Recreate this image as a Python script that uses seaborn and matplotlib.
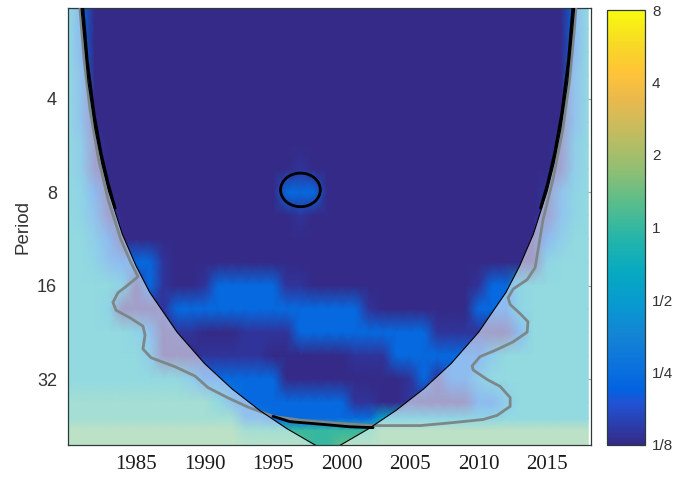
import matplotlib
matplotlib.use("Agg")
import matplotlib as mpl
import matplotlib.pyplot as plt
import numpy as np
import seaborn as sns
from matplotlib.colors import LinearSegmentedColormap, Normalize
from matplotlib.patches import Ellipse

# --- wavelet power grid -----------------------------------------------------
years = list(range(1980, 2019))
log2_periods = [1.0, 1.25, 1.5, 1.75, 2.0, 2.25, 2.5, 2.75, 3.0, 3.25, 3.5,
                3.75, 4.0, 4.25, 4.5, 4.75, 5.0, 5.25, 5.42, 5.55, 5.75]

# one character per year, mapped to log2(power)
power_levels = {"0": -3.3, "1": -2.85, "2": -2.1, "3": -1.7, "4": -1.2,
                "5": -0.8, "6": -0.5, "7": 0.0, "8": 0.5, "9": 1.0}
power_rows = [
    "62" + "0" * 35 + "26",
    "62" + "0" * 35 + "26",
    "62" + "0" * 35 + "26",
    "63" + "0" * 35 + "36",
    "63" + "0" * 35 + "36",
    "63" + "0" * 35 + "36",
    "641" + "0" * 33 + "146",
    "641" + "0" * 14 + "1" + "0" * 18 + "146",
    "652" + "0" * 13 + "222" + "0" * 16 + "1356",
    "6531" + "0" * 13 + "1" + "0" * 17 + "1356",
    "6642" + "0" * 30 + "02466",
    "66532" + "221" + "0" * 27 + "5666",
    "66665" + "0" + "2" + "1" + "00" + "1" + "22222" + "11" + "0" * 12 + "122" + "5" + "66666",
    "666" + "5" + "000" + "1" + "2" * 14 + "1" + "0" * 7 + "222" + "5" + "66666",
    "66666" + "5" + "3" + "0" + "11" + "000" + "1111" + "2" * 10 + "111" + "1" + "00" + "2" + "66666",
    "666666" + "4" + "000" + "11111" + "000000" + "111" + "22222" + "22" + "4" + "6666666",
    "666666666" + "4" + "2" + "22222" + "0" * 9 + "12" + "1" + "22" + "4" + "66666666",
    "7" * 11 + "6" + "3" + "2" * 8 + "11" + "00" + "1" + "0000" + "22" + "4" + "666666",
    "7" * 13 + "33" + "2" * 8 + "5" * 9 + "6" * 7,
    "8" * 13 + "7" * 10 + "8" * 16,
    "8" * 18 + "77" + "8" * 19,
]

# cone of influence
coi_years = [1980.9, 1981.0, 1981.5, 1982.0, 1982.5, 1983.0, 1984.0, 1985.0,
             1986.0, 1988.0, 1990.0, 1992.0, 1994.0, 1996.0, 1998.0, 1999.0,
             2000.0, 2002.0, 2004.0, 2006.0, 2008.0, 2010.0, 2012.0, 2013.0,
             2014.0, 2015.0, 2015.5, 2016.0, 2016.5, 2017.0, 2017.1]
coi_periods = [1.76, 2.06, 3.53, 5.0, 6.47, 7.94, 10.9, 13.8, 16.8, 22.6, 28.5,
               34.4, 40.3, 46.2, 52.0, 54.9, 52.0, 46.2, 40.3, 34.4, 28.5, 22.6,
               16.8, 13.8, 10.9, 7.94, 6.47, 5.0, 3.53, 2.06, 1.76]

# grey contour
grey_years = [1980.85, 1981.22, 1981.65, 1982.27, 1982.97, 1983.9, 1984.6, 1985.15,
              1984.2, 1983.69, 1983.32, 1983.54, 1984.56, 1985.51, 1985.66,
              1985.51, 1986.09, 1987.85, 1989.31, 1990.26, 1991.72, 1993.18,
              1995.0, 1996.97, 1999.9, 2002.3, 2005.73, 2008.14, 2010.33,
              2011.35, 2012.3, 2012.3, 2011.57, 2010.62, 2009.6, 2009.53,
              2010.1, 2011.35, 2012.5, 2013.54, 2013.6, 2013.03, 2012.3,
              2012.15, 2012.52, 2013.54, 2014.12, 2014.34, 2014.7, 2015.42,
              2016.14, 2016.64, 2016.98, 2017.15]
grey_periods = [1.9, 3.0, 4.34, 6.28, 8.46, 11.37, 13.39, 14.97, 16.2, 16.85,
                18.1, 19.2, 20.3, 21.6, 23.1, 25.6, 27.3, 29.2, 31.3, 34.1, 36.8,
                39.4, 42.2, 43.4, 44.5, 45.2, 45.2, 44.2, 43.2, 41.9, 39.2, 36.7,
                33.8, 32.1, 29.9, 29.0, 27.1, 25.7, 24.3, 22.6, 20.9, 19.7, 18.4,
                17.5, 16.4, 15.3, 14.0, 12.25, 9.81, 7.29, 5.03, 3.47, 2.40, 1.9]

# thick black (significance) contours
sig_left_years = [1981.07, 1981.44, 1981.95, 1982.46, 1982.97, 1983.48]
sig_left_periods = [1.9, 3.0, 4.5, 6.0, 7.5, 9.0]
sig_right_years = [2016.93, 2016.56, 2016.05, 2015.54, 2015.03, 2014.52]
sig_right_periods = [1.9, 3.0, 4.5, 6.0, 7.5, 9.0]
sig_bottom_years = [1995.0, 1996.24, 1998.65, 2000.6, 2002.3]
sig_bottom_periods = [42.2, 43.9, 44.8, 45.6, 45.9]
sig_circle_year = 1997.0
sig_circle_period = 7.86
sig_circle_width = 2.9      # years
sig_circle_height = 0.36    # octaves

x_ticks = [1985, 1990, 1995, 2000, 2005, 2010, 2015]
period_ticks = [4, 8, 16, 32]
cbar_ticks = [-3, -2, -1, 0, 1, 2, 3]
cbar_labels = ["1/8", "1/4", "1/2", "1", "2", "4", "8"]

# approximate MATLAB parula
parula_anchors = [
    (0.000, (0.2081, 0.1663, 0.5292)), (0.095, (0.1253, 0.3242, 0.8303)),
    (0.127, (0.0117, 0.3875, 0.8820)), (0.190, (0.0498, 0.4586, 0.8641)),
    (0.254, (0.0793, 0.5200, 0.8312)), (0.317, (0.0343, 0.5966, 0.8199)),
    (0.397, (0.0267, 0.6642, 0.7607)), (0.476, (0.1453, 0.7098, 0.6646)),
    (0.556, (0.3482, 0.7424, 0.5473)), (0.635, (0.5709, 0.7485, 0.4494)),
    (0.714, (0.7525, 0.7384, 0.3768)), (0.794, (0.9139, 0.7258, 0.3063)),
    (0.857, (0.9990, 0.7653, 0.2164)), (0.921, (0.9698, 0.8481, 0.1475)),
    (1.000, (0.9763, 0.9831, 0.0538)),
]
parula = LinearSegmentedColormap.from_list("parula", parula_anchors)

FRAME = "#2b3a3a"

sns.set_style("ticks")
plt.rcParams["font.family"] = ["Liberation Sans", "DejaVu Sans"]

fig = plt.figure(figsize=(6.86, 4.79), dpi=100)
ax = fig.add_axes([68 / 686, 1 - 445 / 479, 523 / 686, 437 / 479])

for row in power_rows:
    assert len(row) == len(years), row
power = np.array([[power_levels[c] for c in row] for row in power_rows])
ax.pcolormesh(years, log2_periods, power, shading="gouraud", cmap=parula,
              vmin=-3, vmax=3, zorder=1, rasterized=True)

# white veil outside the cone of influence
coi_log = list(np.log2(coi_periods))
veil_x = [1979.0] + coi_years + [2019.5, 2019.5, 1979.0]
veil_y = [0.5] + coi_log + [0.5, 6.5, 6.5]
ax.fill(veil_x, veil_y, color="white", alpha=0.55, lw=0, zorder=2)

sns.lineplot(x=grey_years, y=np.log2(grey_periods), sort=False, estimator=None,
             color="#7c8789", lw=2.0, ax=ax, zorder=3)
sns.lineplot(x=coi_years, y=coi_log, sort=False, estimator=None,
             color="black", lw=0.8, ax=ax, zorder=4)
for xs, ps in [(sig_left_years, sig_left_periods),
               (sig_right_years, sig_right_periods),
               (sig_bottom_years, sig_bottom_periods)]:
    sns.lineplot(x=xs, y=np.log2(ps), sort=False, estimator=None,
                 color="black", lw=2.0, ax=ax, zorder=5)
ax.add_patch(Ellipse((sig_circle_year, np.log2(sig_circle_period)),
                     sig_circle_width, sig_circle_height, fill=False,
                     edgecolor="black", lw=2.0, zorder=5))

ax.set_xlim(1980.04, 2018.2)
ax.set_ylim(5.706, 1.027)
ax.set_xticks(x_ticks)
ax.set_xticklabels([str(v) for v in x_ticks], fontfamily="Liberation Serif",
                   fontsize=15, color="#1a1a1a")
ax.set_yticks(np.log2(period_ticks))
ax.set_yticklabels([str(v) for v in period_ticks], fontsize=13, color="#333333")
ax.tick_params(direction="in", length=4, width=0.8, color=FRAME,
               top=True, right=True)
ax.tick_params(axis="x", pad=7)
ax.tick_params(axis="y", pad=8)
ax.set_xlabel("")
ax.set_ylabel("Period", fontsize=13.5, color="#333333", labelpad=4)
for s in ax.spines.values():
    s.set_color(FRAME)
    s.set_linewidth(0.9)

cax = fig.add_axes([607 / 686, 1 - 445 / 479, 38 / 686, 435 / 479])
cb = fig.colorbar(mpl.cm.ScalarMappable(norm=Normalize(-3, 3), cmap=parula),
                  cax=cax, ticks=cbar_ticks)
cb.ax.set_yticklabels(cbar_labels, fontsize=11, color="#333333")
cax.tick_params(direction="in", length=4, width=0.8, color=FRAME,
                right=True, left=False, pad=5)
cb.outline.set_edgecolor(FRAME)
cb.outline.set_linewidth(0.9)

fig.savefig("out.png", dpi=100)
